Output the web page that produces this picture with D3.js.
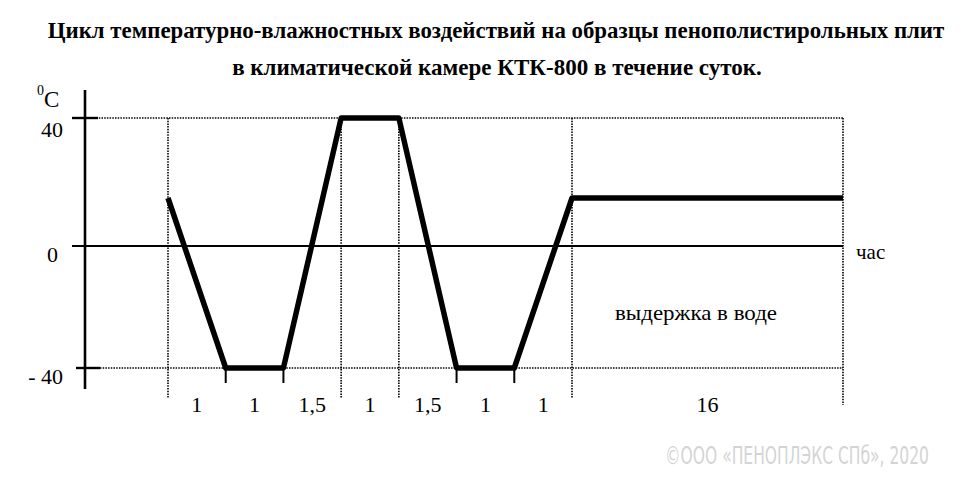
<!DOCTYPE html>
<html><head><meta charset="utf-8">
<script src="https://cdn.jsdelivr.net/npm/d3@7"></script>
<style>
html,body{margin:0;padding:0;background:#fff;}
svg{display:block;font-family:"Liberation Serif","Times New Roman",serif;}
</style></head>
<body>
<svg id="chart" width="960" height="488"></svg>
<script>
// ---- data ----
const titleLines = ["Цикл температурно-влажностных воздействий на образцы пенополистирольных плит",
                    "в климатической камере КТК-800 в течение суток."];
const segmentHours = [1, 1, 1.5, 1, 1.5, 1, 1, 16];
const segmentLabels = ["1", "1", "1,5", "1", "1,5", "1", "1", "16"];
const boundaryTemps = [15, -40, -40, 40, 40, -40, -40, 15, 15];
const yTicks = [40, 0, -40];
const yTickLabels = ["40", "0", "- 40"];
const dottedBoundaries = [0, 3, 4, 7, 8];
const solidBoundaries = [1, 2, 5, 6];
const yUnit = "C";
const xUnit = "час";
const note = "выдержка в воде";
const watermark = "©ООО «ПЕНОПЛЭКС СПб», 2020";

// ---- scales ----
const svg = d3.select("#chart");
const x = d3.scaleLinear().domain([0, 7, 8]).range([168, 572, 843]);
const y = d3.scaleLinear().domain([-40, 0, 40]).range([368, 246, 118]);
const axisX = 85;

// fit a text horizontally to a target width by scaling (keeps glyph height)
function fitText(sel, cx, by, width) {
  const w = sel.node().getComputedTextLength();
  const s = width / w;
  sel.attr("x", 0).attr("y", 0).attr("text-anchor", "middle")
     .attr("transform", `translate(${cx},${by}) scale(${s},1)`);
}

// title
fitText(svg.append("text").attr("font-weight", "bold").attr("font-size", 24).text(titleLines[0]), 496, 38, 897);
fitText(svg.append("text").attr("font-weight", "bold").attr("font-size", 24).text(titleLines[1]), 497, 75, 530);

// dotted horizontal guides at ±40
const g = svg.append("g");
g.append("line").attr("x1", 88).attr("x2", x(8)).attr("y1", y(40)).attr("y2", y(40))
  .attr("stroke", "#000").attr("stroke-width", 1.6).attr("stroke-dasharray", "1.5,1.2");
g.append("line").attr("x1", 100).attr("x2", x(8)).attr("y1", y(-40)).attr("y2", y(-40))
  .attr("stroke", "#000").attr("stroke-width", 1.6).attr("stroke-dasharray", "1.5,1.2");

// dotted vertical guides
g.selectAll(".vd").data(dottedBoundaries).join("line")
  .attr("x1", d => x(d)).attr("x2", d => x(d))
  .attr("y1", y(40)).attr("y2", d => d === 8 ? 405 : 398)
  .attr("stroke", "#000").attr("stroke-width", 1.6).attr("stroke-dasharray", "1.5,1.2");

// solid short ticks below -40
g.selectAll(".vs").data(solidBoundaries).join("line")
  .attr("x1", d => x(d)).attr("x2", d => x(d))
  .attr("y1", y(-40)).attr("y2", 383)
  .attr("stroke", "#000").attr("stroke-width", 2);

// zero line
g.append("line").attr("x1", 72).attr("x2", x(8)).attr("y1", y(0)).attr("y2", y(0))
  .attr("stroke", "#000").attr("stroke-width", 2.2);

// y axis
g.append("line").attr("x1", axisX).attr("x2", axisX).attr("y1", 90).attr("y2", 389)
  .attr("stroke", "#000").attr("stroke-width", 2.6);
g.selectAll(".yt").data([40, -40]).join("line")
  .attr("x1", d => d > 0 ? 72 : 76).attr("x2", d => d > 0 ? 98 : 100)
  .attr("y1", d => y(d)).attr("y2", d => y(d))
  .attr("stroke", "#000").attr("stroke-width", 2.4);

// y labels
svg.selectAll(".yl").data(yTicks).join("text")
  .attr("x", (d, i) => i === 1 ? 58 : 63).attr("y", (d, i) => y(d) + (i === 0 ? 19 : 16))
  .attr("text-anchor", "end").attr("font-size", 22).text((d, i) => yTickLabels[i]);

// unit label
const unit = svg.append("text").attr("x", 37).attr("y", 107).attr("font-size", 23);
unit.append("tspan").attr("font-size", 14).attr("dy", -12).text("0");
unit.append("tspan").attr("dy", 12).text(yUnit);

// temperature line
const line = d3.line().x((d, i) => x(i)).y(d => y(d)).curve(d3.curveLinear);
svg.append("path").datum(boundaryTemps).attr("d", line)
  .attr("fill", "none").attr("stroke", "#000").attr("stroke-width", 5.5)
  .attr("stroke-linejoin", "round");

// segment labels
svg.selectAll(".sl").data(segmentHours).join("text")
  .attr("x", (d, i) => x(i + 0.5)).attr("y", 412)
  .attr("text-anchor", "middle").attr("font-size", 22)
  .text((d, i) => segmentLabels[i]);

// unit x
svg.append("text").attr("x", 856).attr("y", 259).attr("font-size", 21).text(xUnit);
// note
fitText(svg.append("text").attr("font-size", 22).text(note), 696, 320, 162);

// watermark
fitText(svg.append("text").attr("font-size", 25)
  .attr("font-family", "'Liberation Sans Narrow','DejaVu Sans Condensed','Roboto',sans-serif")
  .attr("fill", "#d4d4d4").text(watermark), 797, 464, 264);
</script>
</body></html>
